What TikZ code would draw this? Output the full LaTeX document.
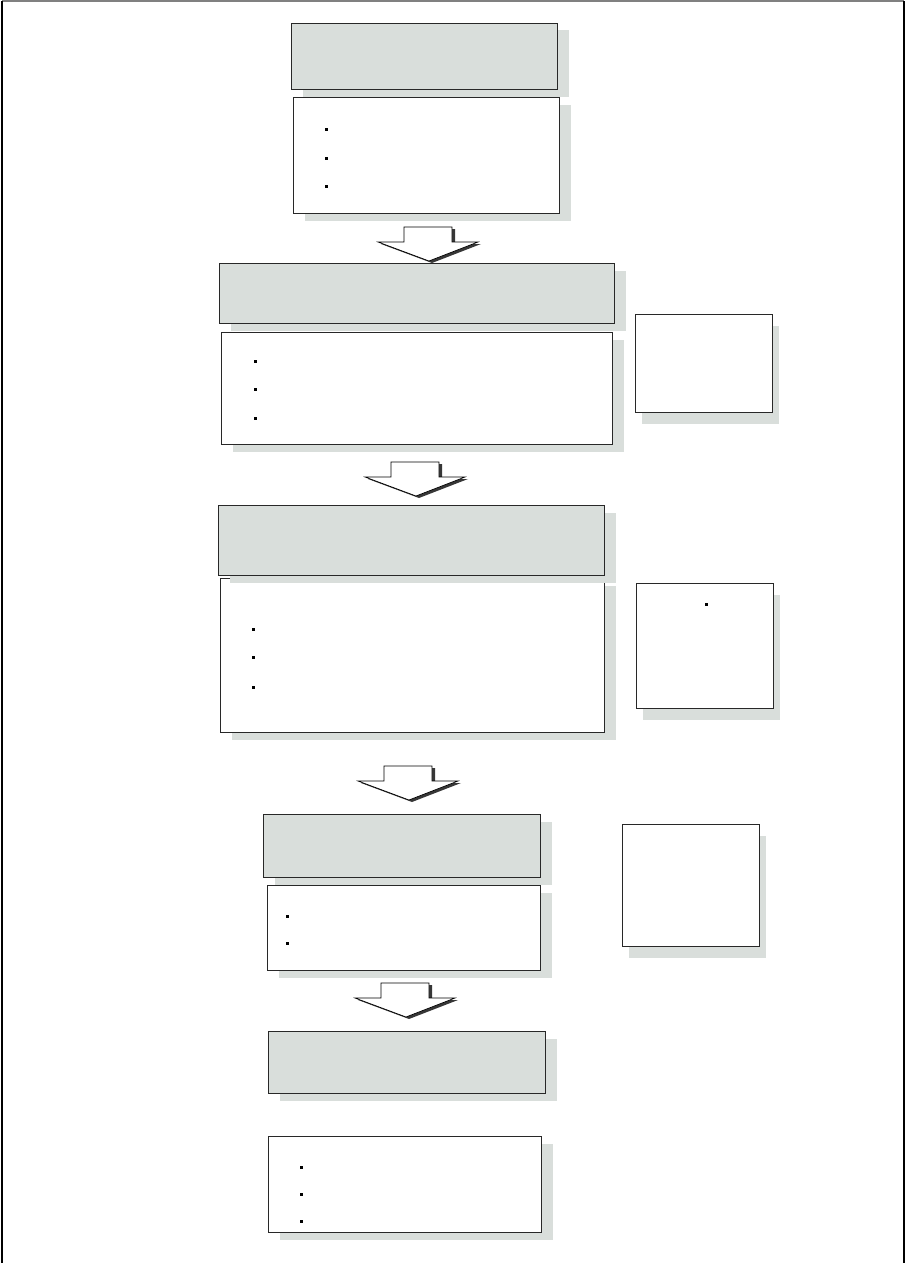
\documentclass[tikz,border=0pt]{standalone}
\usetikzlibrary{shadows}
\definecolor{panelgray}{RGB}{217,222,219}
\definecolor{edgegray}{RGB}{40,40,40}
\definecolor{arrowshade}{RGB}{55,55,55}
\tikzset{
  panel/.style={
    draw = edgegray,
    line width = 1pt,
    anchor = north west,
    inner sep = 0pt
  },
  farshade/.style={
    drop shadow={shadow xshift=11pt, shadow yshift=-7pt, fill=panelgray, opacity=1}
  },
  nearshade/.style={
    drop shadow={shadow xshift=6pt, shadow yshift=-11pt, fill=panelgray, opacity=1}
  },
  heading/.style={panel, farshade, fill=panelgray},
  listbox/.style={panel, farshade, fill=white},
  sidebox/.style={panel, nearshade, fill=white},
  bulletsq/.style={
    shape = rectangle,
    fill = black,
    inner sep = 0pt,
    minimum size = 3pt
  },
  blockarrow/.style={
    draw = black,
    fill = white,
    line width = 0.7pt,
    line join = miter
  }
}
% down arrow hanging from the named top point
\newcommand{\DownArrow}[1]{
  \fill[arrowshade, shift={(#1)}, xshift=3pt, yshift=-2pt]
    (-24,0) -- (24,0) -- (24,15) -- (50,15) -- (1,34) -- (-50,15) -- (-24,15) -- cycle;
  \draw[blockarrow, shift={(#1)}]
    (-24,0) -- (24,0) -- (24,15) -- (50,15) -- (1,34) -- (-50,15) -- (-24,15) -- cycle;
}

\begin{document}
\begin{tikzpicture}[x=1pt, y=-1pt]
  \useasboundingbox (0,0) rectangle (906,1263);

  % frame
  \draw[gray, line width=1.5pt] (2,1) -- (904,1);
  \draw[black, line width=1.2pt] (2,1263) -- (2,1);
  \draw[black, line width=1.2pt] (904,1263) -- (904,1);

  % stage A
  \node[listbox, minimum width=266pt, minimum height=116pt] (bodyA) at (293,97) {};
  \node[heading, minimum width=266pt, minimum height=66pt] (headA) at (291,23) {};
  \node[bulletsq] (a1) at (326,129) {};
  \node[bulletsq] (a2) at (326,158) {};
  \node[bulletsq] (a3) at (326,186) {};

  \coordinate (arrAB) at (428,227);
  \DownArrow{arrAB}

  % stage B
  \node[listbox, minimum width=391pt, minimum height=112pt] (bodyB) at (221,332) {};
  \node[heading, minimum width=395pt, minimum height=60pt] (headB) at (219,263) {};
  \node[sidebox, minimum width=137pt, minimum height=98pt] (sideB) at (635,314) {};
  \node[bulletsq] (b1) at (255,361) {};
  \node[bulletsq] (b2) at (255,389) {};
  \node[bulletsq] (b3) at (255,418) {};

  \coordinate (arrBC) at (415,462);
  \DownArrow{arrBC}

  % stage C
  \node[listbox, minimum width=384pt, minimum height=154pt] (bodyC) at (220,578) {};
  \node[heading, minimum width=386pt, minimum height=70pt] (headC) at (218,505) {};
  \node[sidebox, minimum width=137pt, minimum height=125pt] (sideC) at (636,583) {};
  \node[bulletsq] (c1) at (253,629) {};
  \node[bulletsq] (c2) at (253,657) {};
  \node[bulletsq] (c3) at (253,687) {};
  \node[bulletsq] (c4) at (706,604) {};

  \coordinate (arrCD) at (408,766);
  \DownArrow{arrCD}

  % stage D
  \node[listbox, minimum width=273pt, minimum height=85pt] (bodyD) at (267,885) {};
  \node[heading, minimum width=277pt, minimum height=63pt] (headD) at (263,814) {};
  \node[sidebox, minimum width=137pt, minimum height=122pt] (sideD) at (622,824) {};
  \node[bulletsq] (d1) at (287,916) {};
  \node[bulletsq] (d2) at (287,943) {};

  \coordinate (arrDE) at (405,983);
  \DownArrow{arrDE}

  % stage E
  \node[listbox, minimum width=273pt, minimum height=96pt] (bodyE) at (268,1136) {};
  \node[heading, minimum width=277pt, minimum height=62pt] (headE) at (268,1031) {};
  \node[bulletsq] (e1) at (301,1167) {};
  \node[bulletsq] (e2) at (301,1194) {};
  \node[bulletsq] (e3) at (301,1221) {};
\end{tikzpicture}
\end{document}
